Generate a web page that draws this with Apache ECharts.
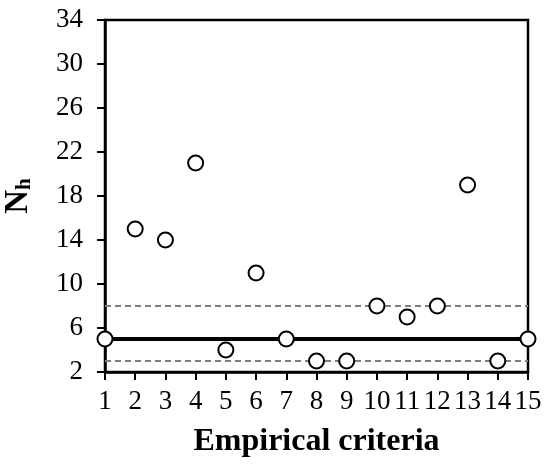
<!DOCTYPE html>
<html>
<head>
<meta charset="utf-8">
<script src="https://cdn.jsdelivr.net/npm/echarts@6/dist/echarts.min.js"></script>
<style>
  html, body { margin: 0; padding: 0; background: #fff; }
  #chart { width: 550px; height: 464px; }
</style>
</head>
<body>
<div id="chart"></div>
<script>
  // criteria index and Nh values
  var criteria = [1, 2, 3, 4, 5, 6, 7, 8, 9, 10, 11, 12, 13, 14, 15];
  var nhValues = [5, 15, 14, 21, 4, 11, 5, 3, 3, 8, 7, 8, 19, 3, 5];
  var meanLevel = 5;
  var upperLevel = 8;
  var lowerLevel = 3;
  var xRange = [1, 15];
  var yRange = [2, 34];

  var font = '"Liberation Serif", "Times New Roman", serif';

  function levelLine(v) {
    return [[xRange[0], v], [xRange[1], v]];
  }

  var chart = echarts.init(document.getElementById('chart'));
  chart.setOption({
    animation: false,
    grid: {
      left: 105, right: 22, top: 20, bottom: 92,
      outerBoundsMode: 'none',
      containLabel: false,
      show: true, borderColor: '#000', borderWidth: 2.5
    },
    xAxis: {
      type: 'value',
      min: xRange[0], max: xRange[1], interval: 1,
      name: 'Empirical criteria',
      nameLocation: 'middle',
      nameGap: 54,
      nameTextStyle: { fontFamily: font, fontSize: 32, fontWeight: 'bold', color: '#000' },
      axisLine: { lineStyle: { color: '#000', width: 2.5 } },
      axisTick: { inside: false, length: 8, lineStyle: { color: '#000', width: 2 } },
      axisLabel: { fontFamily: font, fontSize: 27, color: '#000', margin: 16 },
      splitLine: { show: false }
    },
    yAxis: {
      type: 'value',
      min: yRange[0], max: yRange[1], interval: 4,
      name: '{n|N}{s|h}',
      nameLocation: 'middle',
      nameGap: 70,
      nameRotate: 90,
      nameTextStyle: {
        rich: {
          n: { fontFamily: font, fontSize: 33, fontWeight: 'bold', color: '#000' },
          s: { fontFamily: font, fontSize: 21, fontWeight: 'bold', color: '#000', verticalAlign: 'bottom', padding: [13, 0, 0, 0] }
        }
      },
      axisLine: { lineStyle: { color: '#000', width: 2.5 } },
      axisTick: { inside: false, length: 8, lineStyle: { color: '#000', width: 2 } },
      axisLabel: { fontFamily: font, fontSize: 27, color: '#000', margin: 22 },
      splitLine: { show: false }
    },
    series: [
      {
        type: 'line',
        data: levelLine(upperLevel),
        symbol: 'none',
        lineStyle: { color: '#808080', width: 2, type: [6, 4] },
        z: 1
      },
      {
        type: 'line',
        data: levelLine(lowerLevel),
        symbol: 'none',
        lineStyle: { color: '#808080', width: 2, type: [6, 4] },
        z: 1
      },
      {
        type: 'line',
        data: levelLine(meanLevel),
        symbol: 'none',
        lineStyle: { color: '#000', width: 4 },
        z: 2
      },
      {
        type: 'scatter',
        data: criteria.map(function (c, i) { return [c, nhValues[i]]; }),
        symbol: 'circle',
        symbolSize: 15,
        itemStyle: { color: '#fff', borderColor: '#000', borderWidth: 2, opacity: 1 },
        z: 5
      }
    ]
  });
</script>
</body>
</html>
